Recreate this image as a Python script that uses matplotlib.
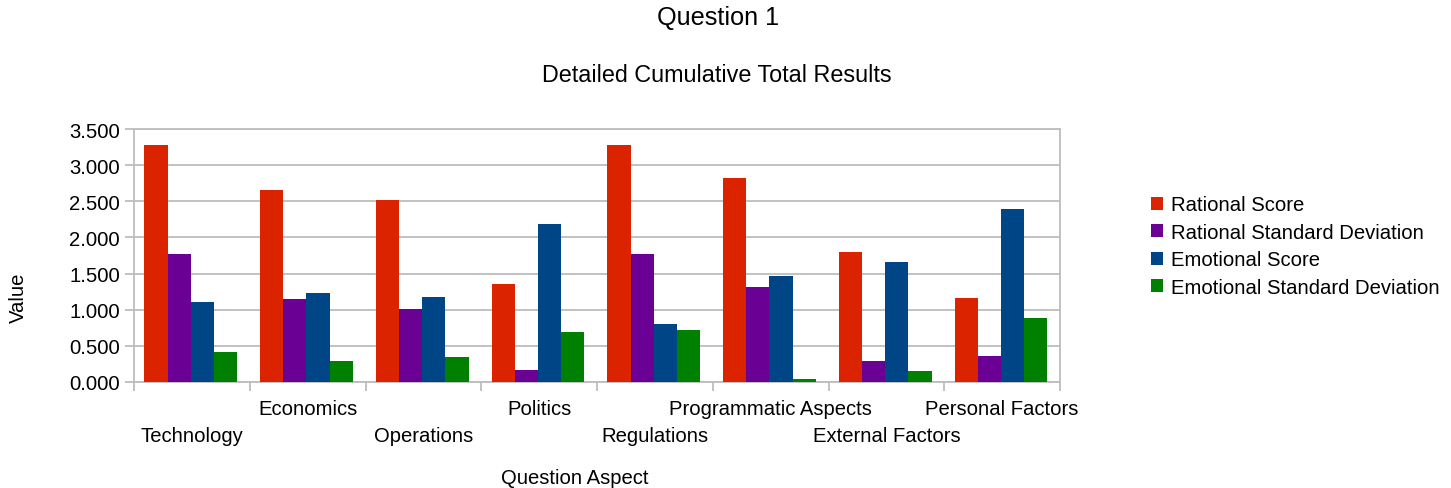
import matplotlib
matplotlib.use("Agg")
import matplotlib.pyplot as plt
import numpy as np

categories = ['Technology', 'Economics', 'Operations', 'Politics',
              'Regulations', 'Programmatic Aspects', 'External Factors', 'Personal Factors']

rational_score = [3.278, 2.656, 2.517, 1.355, 3.278, 2.822, 1.798, 1.162]
rational_sd = [1.770, 1.148, 1.010, 0.166, 1.770, 1.314, 0.290, 0.360]
emotional_score = [1.107, 1.231, 1.176, 2.185, 0.802, 1.466, 1.660, 2.393]
emotional_sd = [0.415, 0.290, 0.346, 0.692, 0.719, 0.041, 0.152, 0.885]

series = [
    ('Rational Score', rational_score, '#dc2300'),
    ('Rational Standard Deviation', rational_sd, '#6a0094'),
    ('Emotional Score', emotional_score, '#004586'),
    ('Emotional Standard Deviation', emotional_sd, '#008000'),
]

plt.rcParams['font.family'] = ['Liberation Sans', 'DejaVu Sans']
fs = 14.6
grid_col = '#bdbdbd'

W, H = 1451, 489
fig = plt.figure(figsize=(W / 100, H / 100), dpi=100)
ax = fig.add_axes([134 / W, 1 - 383 / H, (1060 - 134) / W, (383 - 130) / H])

x = np.arange(len(categories))
bw = 0.2
for i, (name, vals, col) in enumerate(series):
    ax.bar(x + (i - 1.5) * bw - 0.01, vals, bw, color=col, label=name, zorder=3)

ax.set_xlim(-0.5, len(categories) - 0.5)
ax.set_ylim(0, 3.5)
ax.set_yticks(np.arange(0, 3.51, 0.5))
ax.set_yticklabels(['%.3f' % v for v in np.arange(0, 3.51, 0.5)], fontsize=fs)
ax.yaxis.grid(True, color=grid_col, linewidth=1.3, zorder=0)

# boundaries get tick marks, centers get labels
ax.set_xticks(np.arange(-0.5, len(categories), 1.0))
ax.set_xticklabels([])
ax.set_xticks(x, minor=True)
ax.set_xticklabels(categories, minor=True, fontsize=fs)
ax.tick_params(axis='x', which='minor', length=0)
ax.tick_params(axis='both', which='major', length=6.5, color=grid_col, width=1.3)
for i, t in enumerate(ax.xaxis.get_minor_ticks()):
    t.set_pad(32 if i % 2 == 0 else 12)

for s in ax.spines.values():
    s.set_color(grid_col)
    s.set_linewidth(1.3)

fig.text(718 / W, 1 - 18 / H, 'Question 1', ha='center', va='center', fontsize=18.2)
fig.text(717 / W, 1 - 75 / H, 'Detailed Cumulative Total Results', ha='center', va='center', fontsize=16.8)
fig.text(18 / W, 1 - 298 / H, 'Value', rotation=90, ha='center', va='center', fontsize=fs)
fig.text(575 / W, 1 - 479 / H, 'Question Aspect', ha='center', va='center', fontsize=fs)

fig.legend(loc='center left', bbox_to_anchor=(1151 / W, 1 - 247 / H), frameon=False,
           fontsize=fs, handlelength=0.6, handleheight=0.6, handletextpad=0.4,
           labelspacing=0.42, borderpad=0, borderaxespad=0)

fig.savefig('out.png', dpi=100)
